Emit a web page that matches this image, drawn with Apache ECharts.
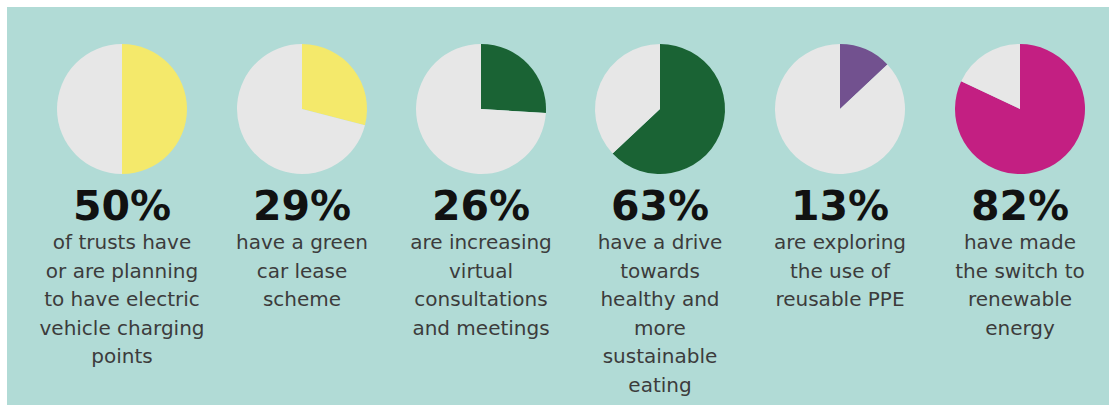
<!DOCTYPE html>
<html>
<head>
<meta charset="utf-8">
<script src="https://cdn.jsdelivr.net/npm/echarts@6/dist/echarts.min.js"></script>
<style>html,body{margin:0;padding:0;background:#fff}#c{width:1109px;height:405px}</style>
</head>
<body>
<div id="c"></div>
<script>
const values = [50, 29, 26, 63, 13, 82];
const percentLabels = ['50%', '29%', '26%', '63%', '13%', '82%'];
const descriptions = [
  'of trusts have\nor are planning\nto have electric\nvehicle charging\npoints',
  'have a green\ncar lease\nscheme',
  'are increasing\nvirtual\nconsultations\nand meetings',
  'have a drive\ntowards\nhealthy and\nmore\nsustainable\neating',
  'are exploring\nthe use of\nreusable PPE',
  'have made\nthe switch to\nrenewable\nenergy'
];
const colors = ['#f4e96b', '#f4e96b', '#1a6334', '#1a6334', '#72518f', '#c31f82'];

const centersX = [122, 302, 481, 660, 840, 1020];
const cy = 109;
const rest = '#e7e7e7';

const series = values.map((v, i) => ({
  type: 'pie',
  center: [centersX[i], cy],
  radius: 65,
  startAngle: 90,
  clockwise: true,
  silent: true,
  label: { show: false },
  labelLine: { show: false },
  itemStyle: { borderWidth: 0 },
  data: [
    { value: v, itemStyle: { color: colors[i] } },
    { value: 100 - v, itemStyle: { color: rest } }
  ]
}));

const graphics = [
  { type: 'rect', shape: { x: 7, y: 7, width: 1102, height: 398 }, style: { fill: '#b1dbd6' }, z: -10 }
];
percentLabels.forEach((t, i) => {
  graphics.push({
    type: 'text', x: centersX[i], y: 206, z: 10,
    style: { text: t, font: 'bold 41px "DejaVu Sans"', fill: '#111', align: 'center', verticalAlign: 'middle' }
  });
  graphics.push({
    type: 'text', x: centersX[i], y: 228, z: 10,
    style: { text: descriptions[i], font: '20px "DejaVu Sans"', fill: '#3c3c3c', align: 'center', verticalAlign: 'top', lineHeight: 28.5 }
  });
});

const chart = echarts.init(document.getElementById('c'), null, { renderer: 'svg' });
chart.setOption({
  backgroundColor: '#ffffff',
  animation: false,
  series: series,
  graphic: graphics
});
</script>
</body>
</html>
